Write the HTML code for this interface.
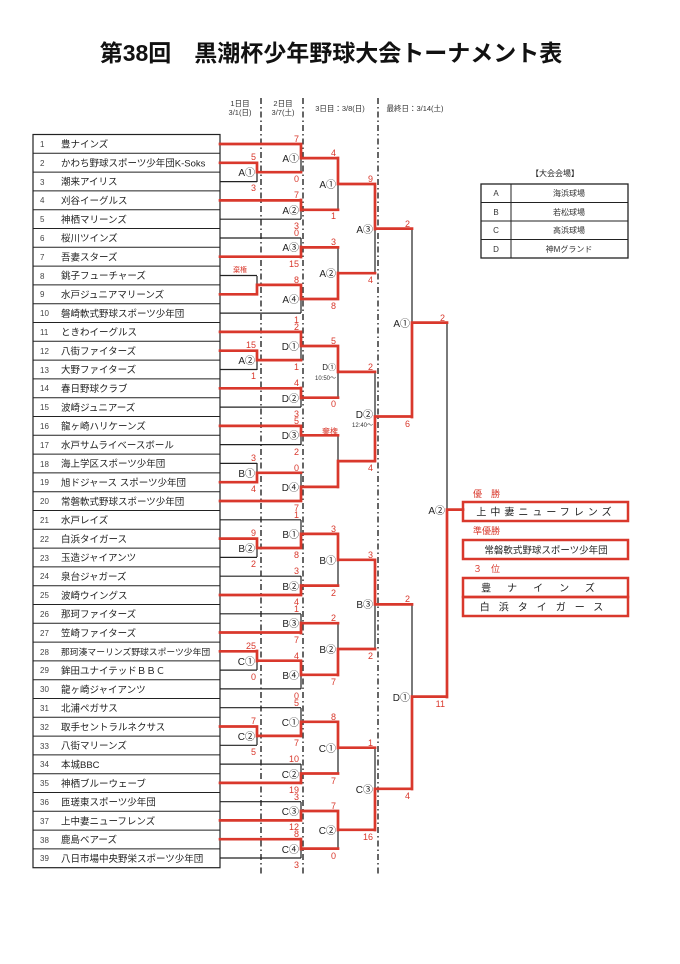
<!DOCTYPE html>
<html><head><meta charset="utf-8"><style>
body{margin:0;background:#fff;}
svg{display:block;font-family:"Liberation Sans","Noto Sans CJK JP",sans-serif;}
.tn{font-size:9.5px;fill:#222}
.nn{font-size:8px;fill:#444}
.ml{font-size:10px;fill:#222;text-anchor:end}
.sc{font-size:9px;fill:#d9382c;text-anchor:end}
.r{stroke:#d9382c;stroke-width:2.7;fill:none;stroke-linecap:square}
.b{stroke:#222;stroke-width:1.2;fill:none}
</style></head><body>
<svg width="680" height="964" viewBox="0 0 680 964" xmlns="http://www.w3.org/2000/svg">
<text x="331" y="61" text-anchor="middle" font-size="23" font-weight="bold" fill="#111">第38回　黒潮杯少年野球大会トーナメント表</text>
<g font-size="7.5" fill="#333" text-anchor="middle">
<text x="240" y="106">1日目</text><text x="240" y="115">3/1(日)</text>
<text x="283" y="106">2日目</text><text x="283" y="115">3/7(土)</text>
<text x="340" y="111">3日目：3/8(日)</text>
<text x="415" y="111">最終日：3/14(土)</text>
</g>
<g stroke="#333" stroke-width="1.5" stroke-dasharray="6,3,1.5,3">
<line x1="261" y1="98" x2="261" y2="875"/><line x1="303" y1="98" x2="303" y2="875"/><line x1="378" y1="98" x2="378" y2="875"/>
</g>
<g stroke="#222" stroke-width="1.2" fill="none">
<rect x="33" y="134.5" width="187" height="733.2"/>
</g>
<g stroke="#222" stroke-width="1">
<path d="M33 153.3H220M33 172.1H220M33 190.9H220M33 209.7H220M33 228.5H220M33 247.3H220M33 266.1H220M33 284.9H220M33 303.7H220M33 322.5H220M33 341.3H220M33 360.1H220M33 378.9H220M33 397.7H220M33 416.5H220M33 435.3H220M33 454.1H220M33 472.9H220M33 491.7H220M33 510.5H220M33 529.3H220M33 548.1H220M33 566.9H220M33 585.7H220M33 604.5H220M33 623.3H220M33 642.1H220M33 660.9H220M33 679.7H220M33 698.5H220M33 717.3H220M33 736.1H220M33 754.9H220M33 773.7H220M33 792.5H220M33 811.3H220M33 830.1H220M33 848.9H220"/>
</g>
<g class="nn">
<text x="40" y="147">1</text><text x="40" y="166">2</text><text x="40" y="185">3</text><text x="40" y="203">4</text><text x="40" y="222">5</text><text x="40" y="241">6</text><text x="40" y="260">7</text><text x="40" y="279">8</text><text x="40" y="297">9</text><text x="40" y="316">10</text><text x="40" y="335">11</text><text x="40" y="354">12</text><text x="40" y="373">13</text><text x="40" y="391">14</text><text x="40" y="410">15</text><text x="40" y="429">16</text><text x="40" y="448">17</text><text x="40" y="467">18</text><text x="40" y="485">19</text><text x="40" y="504">20</text><text x="40" y="523">21</text><text x="40" y="542">22</text><text x="40" y="561">23</text><text x="40" y="579">24</text><text x="40" y="598">25</text><text x="40" y="617">26</text><text x="40" y="636">27</text><text x="40" y="655">28</text><text x="40" y="673">29</text><text x="40" y="692">30</text><text x="40" y="711">31</text><text x="40" y="730">32</text><text x="40" y="749">33</text><text x="40" y="767">34</text><text x="40" y="786">35</text><text x="40" y="805">36</text><text x="40" y="824">37</text><text x="40" y="843">38</text><text x="40" y="861">39</text>
</g>
<g class="tn">
<text x="61" y="147.5">豊ナインズ</text><text x="61" y="166.5">かわち野球スポーツ少年団K-Soks</text><text x="61" y="185">潮来アイリス</text><text x="61" y="204">刈谷イーグルス</text><text x="61" y="223">神栖マリーンズ</text><text x="61" y="241.5">桜川ツインズ</text><text x="61" y="260.5">吾妻スターズ</text><text x="61" y="279">銚子フューチャーズ</text><text x="61" y="298">水戸ジュニアマリーンズ</text><text x="61" y="317">磐崎軟式野球スポーツ少年団</text><text x="61" y="335.5">ときわイーグルス</text><text x="61" y="354.5">八街ファイターズ</text><text x="61" y="373">大野ファイターズ</text><text x="61" y="392">春日野球クラブ</text><text x="61" y="411">波崎ジュニアーズ</text><text x="61" y="429.5">龍ヶ崎ハリケーンズ</text><text x="61" y="448.5">水戸サムライベースボール</text><text x="61" y="467">海上学区スポーツ少年団</text><text x="61" y="486">旭ドジャース スポーツ少年団</text><text x="61" y="505">常磐軟式野球スポーツ少年団</text><text x="61" y="523.5">水戸レイズ</text><text x="61" y="542.5">白浜タイガース</text><text x="61" y="561">玉造ジャイアンツ</text><text x="61" y="580">泉台ジャガーズ</text><text x="61" y="599">波崎ウイングス</text><text x="61" y="617.5">那珂ファイターズ</text><text x="61" y="636.5">笠崎ファイターズ</text><text x="61" y="655" font-size="8.8">那珂湊マーリンズ野球スポーツ少年団</text><text x="61" y="674">鉾田ユナイテッドＢＢＣ</text><text x="61" y="693">龍ヶ崎ジャイアンツ</text><text x="61" y="711.5">北浦ペガサス</text><text x="61" y="730.5">取手セントラルネクサス</text><text x="61" y="749">八街マリーンズ</text><text x="61" y="768">本城BBC</text><text x="61" y="787">神栖ブルーウェーブ</text><text x="61" y="805.5">匝瑳東スポーツ少年団</text><text x="61" y="824.5">上中妻ニューフレンズ</text><text x="61" y="843">鹿島ベアーズ</text><text x="61" y="862">八日市場中央野栄スポーツ少年団</text>
</g>
<path class="b" d="M220 181.6H257M220 275.5H257M220 369.5H257M220 463.4H257M220 557.4H257M220 670.1H257M220 745.3H257
M220 219.2H301M220 238H301M220 313.1H301M220 407.1H301M220 444.6H301M220 519.8H301M220 576.2H301M220 613.8H301M220 688.9H301M220 707.7H301M220 764.1H301M220 801.7H301M220 858H301
M257 163V182M257 276V294M257 351V370M257 463V482M257 539V557M257 651V670M257 727V745
M301 144V172M301 200V219M301 238V257M301 285V313M301 332V360M301 388V407M301 426V445M301 473V501M301 520V548M301 576V595M301 614V633M301 661V689M301 708V736M301 764V783M301 802V820M301 839V858
M338 158V210M338 247V299M338 346V398M338 435V487M338 534V586M338 623V675M338 722V774M338 811V849
M375 184V273M375 372V461M375 560V649M375 748V830
M412 229V417M412 604V789M447 323V697"/>
<path class="r" d="M220 162.8H257M220 294.3H257M220 350.7H257M220 482.2H257M220 538.6H257M220 651.3H257M220 726.5H257
M220 144H301M220 200.4H301M220 256.7H301M220 331.9H301M220 388.3H301M220 425.9H301M220 501H301M220 595H301M220 632.5H301M220 782.9H301M220 820.4H301M220 839.2H301
M257 172.2H301M257 284.9H301M257 360.1H301M257 472.8H301M257 548H301M257 660.7H301M257 735.9H301
M301 158.1H338M301 209.8H338M301 247.4H338M301 299H338M301 346H338M301 397.7H338M301 435.3H338M301 486.9H338M301 533.9H338M301 585.6H338M301 623.2H338M301 674.8H338M301 721.8H338M301 773.5H338M301 811H338M301 848.6H338
M338 184H375M338 273.2H375M338 371.9H375M338 461.1H375M338 559.8H375M338 649H375M338 747.7H375M338 829.8H375
M375 228.6H412M375 416.5H412M375 604.4H412M375 788.8H412
M412 322.6H447M412 696.6H447M447 509.6H463
M257 163V172M257 285V294M257 351V360M257 473V482M257 539V548M257 651V661M257 727V736
M301 144V158M301 200V210M301 247V257M301 285V299M301 332V346M301 388V398M301 426V435M301 487V501M301 534V548M301 586V595M301 623V633M301 661V675M301 722V736M301 774V783M301 811V820M301 839V849
M338 158V184M338 273V299M338 346V372M338 461V487M338 534V560M338 649V675M338 722V748M338 811V830
M375 184V229M375 417V461M375 560V604M375 789V830
M412 323V417M412 697V789M447 510V697"/>
<g class="ml">
<text x="255" y="176">A①</text><text x="255" y="364">A②</text><text x="255" y="477">B①</text><text x="255" y="552">B②</text><text x="255" y="665">C①</text><text x="255" y="740">C②</text>
<text x="299" y="162">A①</text><text x="299" y="214">A②</text><text x="299" y="251">A③</text><text x="299" y="303">A④</text><text x="299" y="350">D①</text><text x="299" y="402">D②</text><text x="299" y="439">D③</text><text x="299" y="491">D④</text><text x="299" y="538">B①</text><text x="299" y="590">B②</text><text x="299" y="627">B③</text><text x="299" y="679">B④</text><text x="299" y="726">C①</text><text x="299" y="778">C②</text><text x="299" y="815">C③</text><text x="299" y="853">C④</text>
<text x="336" y="188">A①</text><text x="336" y="277">A②</text><text x="336" y="370" font-size="8">D①</text><text x="336" y="564">B①</text><text x="336" y="653">B②</text><text x="336" y="752">C①</text><text x="336" y="834">C②</text>
<text x="373" y="233">A③</text><text x="373" y="418">D②</text><text x="373" y="608">B③</text><text x="373" y="793">C③</text>
<text x="410" y="327">A①</text><text x="410" y="701">D①</text><text x="445" y="514">A②</text>
</g>
<text x="336" y="380" font-size="6" text-anchor="end" fill="#333">10:50～</text>
<text x="373" y="427" font-size="6" text-anchor="end" fill="#333">12:40～</text>
<text x="240" y="272" font-size="7" fill="#d9382c" text-anchor="middle">棄権</text>
<text x="330" y="434" font-size="8" fill="#d9382c" text-anchor="middle">棄権</text>
<g class="sc">
<text x="256" y="160">5</text><text x="256" y="191">3</text><text x="256" y="348">15</text><text x="256" y="379">1</text><text x="256" y="461">3</text><text x="256" y="492">4</text><text x="256" y="536">9</text><text x="256" y="567">2</text><text x="256" y="649">25</text><text x="256" y="680">0</text><text x="256" y="724">7</text><text x="256" y="755">5</text>
<text x="299" y="142">7</text><text x="299" y="182">0</text><text x="299" y="198">7</text><text x="299" y="229">3</text><text x="299" y="236">0</text><text x="299" y="267">15</text><text x="299" y="283">8</text><text x="299" y="323">1</text><text x="299" y="330">2</text><text x="299" y="370">1</text><text x="299" y="386">4</text><text x="299" y="417">3</text><text x="299" y="424">5</text><text x="299" y="455">2</text><text x="299" y="471">0</text><text x="299" y="511">7</text><text x="299" y="518">1</text><text x="299" y="558">8</text><text x="299" y="574">3</text><text x="299" y="605">4</text><text x="299" y="612">1</text><text x="299" y="643">7</text><text x="299" y="659">4</text><text x="299" y="699">0</text><text x="299" y="706">5</text><text x="299" y="746">7</text><text x="299" y="762">10</text><text x="299" y="793">19</text><text x="299" y="800">3</text><text x="299" y="830">12</text><text x="299" y="837">8</text><text x="299" y="868">3</text>
<text x="336" y="156">4</text><text x="336" y="219">1</text><text x="336" y="245">3</text><text x="336" y="309">8</text><text x="336" y="344">5</text><text x="336" y="407">0</text><text x="336" y="532">3</text><text x="336" y="596">2</text><text x="336" y="621">2</text><text x="336" y="685">7</text><text x="336" y="720">8</text><text x="336" y="784">7</text><text x="336" y="809">7</text><text x="336" y="859">0</text>
<text x="373" y="182">9</text><text x="373" y="283">4</text><text x="373" y="370">2</text><text x="373" y="471">4</text><text x="373" y="558">3</text><text x="373" y="659">2</text><text x="373" y="746">1</text><text x="373" y="840">16</text>
<text x="410" y="227">2</text><text x="410" y="427">6</text><text x="410" y="602">2</text><text x="410" y="799">4</text>
<text x="445" y="321">2</text><text x="445" y="707">11</text>
</g>
<text x="555" y="176" font-size="8" text-anchor="middle" fill="#222">【大会会場】</text>
<g stroke="#222" fill="none"><rect x="481" y="184" width="147" height="74" stroke-width="1.3"/>
<path d="M481 202.5H628M481 221H628M481 239.5H628M511 184V258" stroke-width="1"/></g>
<g font-size="8" fill="#333" text-anchor="middle">
<text x="496" y="196">A</text><text x="496" y="215">B</text><text x="496" y="233">C</text><text x="496" y="252">D</text>
<text x="569" y="196">海浜球場</text><text x="569" y="215">若松球場</text><text x="569" y="233">高浜球場</text><text x="569" y="252">神Mグランド</text>
</g>
<g font-size="9" fill="#d9382c"><text x="473" y="497">優　勝</text><text x="473" y="534">準優勝</text><text x="473" y="572">３　位</text></g>
<g stroke="#d9382c" stroke-width="2.5" fill="none">
<rect x="463" y="502" width="165" height="19"/><rect x="463" y="540" width="165" height="19"/><rect x="463" y="578" width="165" height="19"/><rect x="463" y="597" width="165" height="19"/>
</g>
<g font-size="10" fill="#222">
<text x="546" y="515.5" text-anchor="middle" letter-spacing="4">上中妻ニューフレンズ</text>
<text x="546" y="553.5" text-anchor="middle" font-size="9.5">常磐軟式野球スポーツ少年団</text>
<text x="546" y="591.5" text-anchor="middle" letter-spacing="16">豊ナインズ</text>
<text x="546" y="610.5" text-anchor="middle" letter-spacing="9">白浜タイガース</text>
</g>
</svg>
</body></html>
